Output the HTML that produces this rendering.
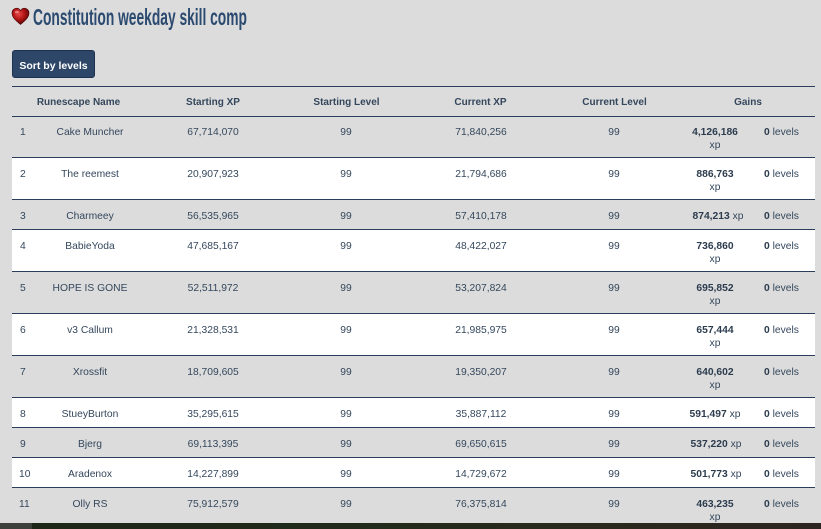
<!DOCTYPE html>
<html><head><meta charset="utf-8">
<style>
html,body{margin:0;padding:0;}
body{width:821px;height:529px;overflow:hidden;background:#dcdcdc;position:relative;font-family:"Liberation Sans",sans-serif;color:#34475c;}
.abs{position:absolute;}
.title{position:absolute;left:33px;top:3px;font-size:23px;font-weight:bold;color:#2b4a70;white-space:nowrap;transform:scaleX(0.6);transform-origin:0 0;line-height:29px;letter-spacing:0;}
.btn{position:absolute;left:12px;top:50px;width:81px;height:26px;background:#2e4768;border:1px solid #1e3250;border-radius:3px;color:#fff;font-size:10.5px;font-weight:bold;line-height:30px;text-align:center;}
.line{position:absolute;left:12px;width:803px;height:1px;background:#2b3d5b;}
.white{position:absolute;left:12px;width:803px;background:#fff;}
.c{position:absolute;font-size:10.3px;line-height:13px;text-align:center;white-space:nowrap;}
.h{position:absolute;font-size:10px;font-weight:bold;line-height:13px;text-align:center;white-space:nowrap;color:#34475c;}
b{color:#2c3c4e;}
</style></head><body>
<svg class="abs" style="left:11px;top:7px" width="19" height="19" viewBox="0 0 19 19">
<defs><radialGradient id="hg" cx="40%" cy="35%" r="70%"><stop offset="0" stop-color="#e84848"/><stop offset="0.5" stop-color="#b01414"/><stop offset="1" stop-color="#4a0404"/></radialGradient></defs>
<path d="M9.5 17.5 C4 13 1 10 1 6 C1 3 3.3 1.2 5.6 1.2 C7.4 1.2 8.8 2.3 9.5 3.6 C10.2 2.3 11.6 1.2 13.4 1.2 C15.7 1.2 18 3 18 6 C18 10 15 13 9.5 17.5 Z" fill="url(#hg)" stroke="#4a0808" stroke-width="0.6"/>
<ellipse cx="5.8" cy="5" rx="2" ry="1.3" fill="#ffb0b0" opacity="0.6"/>
</svg>
<div class="title">Constitution weekday skill comp</div>
<div class="btn">Sort by levels</div>

<div class="white" style="top:158px;height:42px"></div>
<div class="white" style="top:230px;height:42px"></div>
<div class="white" style="top:314px;height:42px"></div>
<div class="white" style="top:398px;height:30px"></div>
<div class="white" style="top:458px;height:30px"></div>

<div class="line" style="top:86px"></div>
<div class="line" style="top:116px"></div>
<div class="line" style="top:157px"></div>
<div class="line" style="top:199px"></div>
<div class="line" style="top:229px"></div>
<div class="line" style="top:271px"></div>
<div class="line" style="top:313px"></div>
<div class="line" style="top:355px"></div>
<div class="line" style="top:397px"></div>
<div class="line" style="top:427px"></div>
<div class="line" style="top:457px"></div>
<div class="line" style="top:487px"></div>

<div class="h" style="left:8.5px;width:140px;top:96px">Runescape Name</div>
<div class="h" style="left:143px;width:140px;top:96px">Starting XP</div>
<div class="h" style="left:276.5px;width:140px;top:96px">Starting Level</div>
<div class="h" style="left:410.5px;width:140px;top:96px">Current XP</div>
<div class="h" style="left:544.5px;width:140px;top:96px">Current Level</div>
<div class="h" style="left:678px;width:140px;top:96px">Gains</div>

<div class="c" style="left:20px;top:125.5px;text-align:left">1</div>
<div class="c" style="left:20px;width:140px;top:125.5px">Cake Muncher</div>
<div class="c" style="left:143px;width:140px;top:125.5px">67,714,070</div>
<div class="c" style="left:276px;width:140px;top:125.5px">99</div>
<div class="c" style="left:411px;width:140px;top:125.5px">71,840,256</div>
<div class="c" style="left:544px;width:140px;top:125.5px">99</div>
<div class="c" style="left:665px;width:100px;top:125.5px"><b>4,126,186</b><br>xp</div>
<div class="c" style="left:764px;top:125.5px;text-align:left"><b>0</b> levels</div>

<div class="c" style="left:20px;top:167.5px;text-align:left">2</div>
<div class="c" style="left:20px;width:140px;top:167.5px">The reemest</div>
<div class="c" style="left:143px;width:140px;top:167.5px">20,907,923</div>
<div class="c" style="left:276px;width:140px;top:167.5px">99</div>
<div class="c" style="left:411px;width:140px;top:167.5px">21,794,686</div>
<div class="c" style="left:544px;width:140px;top:167.5px">99</div>
<div class="c" style="left:665px;width:100px;top:167.5px"><b>886,763</b><br>xp</div>
<div class="c" style="left:764px;top:167.5px;text-align:left"><b>0</b> levels</div>

<div class="c" style="left:20px;top:209.5px;text-align:left">3</div>
<div class="c" style="left:20px;width:140px;top:209.5px">Charmeey</div>
<div class="c" style="left:143px;width:140px;top:209.5px">56,535,965</div>
<div class="c" style="left:276px;width:140px;top:209.5px">99</div>
<div class="c" style="left:411px;width:140px;top:209.5px">57,410,178</div>
<div class="c" style="left:544px;width:140px;top:209.5px">99</div>
<div class="c" style="left:668px;width:100px;top:209.5px"><b>874,213</b> xp</div>
<div class="c" style="left:764px;top:209.5px;text-align:left"><b>0</b> levels</div>

<div class="c" style="left:20px;top:239.5px;text-align:left">4</div>
<div class="c" style="left:20px;width:140px;top:239.5px">BabieYoda</div>
<div class="c" style="left:143px;width:140px;top:239.5px">47,685,167</div>
<div class="c" style="left:276px;width:140px;top:239.5px">99</div>
<div class="c" style="left:411px;width:140px;top:239.5px">48,422,027</div>
<div class="c" style="left:544px;width:140px;top:239.5px">99</div>
<div class="c" style="left:665px;width:100px;top:239.5px"><b>736,860</b><br>xp</div>
<div class="c" style="left:764px;top:239.5px;text-align:left"><b>0</b> levels</div>

<div class="c" style="left:20px;top:281.5px;text-align:left">5</div>
<div class="c" style="left:20px;width:140px;top:281.5px">HOPE IS GONE</div>
<div class="c" style="left:143px;width:140px;top:281.5px">52,511,972</div>
<div class="c" style="left:276px;width:140px;top:281.5px">99</div>
<div class="c" style="left:411px;width:140px;top:281.5px">53,207,824</div>
<div class="c" style="left:544px;width:140px;top:281.5px">99</div>
<div class="c" style="left:665px;width:100px;top:281.5px"><b>695,852</b><br>xp</div>
<div class="c" style="left:764px;top:281.5px;text-align:left"><b>0</b> levels</div>

<div class="c" style="left:20px;top:323.5px;text-align:left">6</div>
<div class="c" style="left:20px;width:140px;top:323.5px">v3 Callum</div>
<div class="c" style="left:143px;width:140px;top:323.5px">21,328,531</div>
<div class="c" style="left:276px;width:140px;top:323.5px">99</div>
<div class="c" style="left:411px;width:140px;top:323.5px">21,985,975</div>
<div class="c" style="left:544px;width:140px;top:323.5px">99</div>
<div class="c" style="left:665px;width:100px;top:323.5px"><b>657,444</b><br>xp</div>
<div class="c" style="left:764px;top:323.5px;text-align:left"><b>0</b> levels</div>

<div class="c" style="left:20px;top:365.5px;text-align:left">7</div>
<div class="c" style="left:20px;width:140px;top:365.5px">Xrossfit</div>
<div class="c" style="left:143px;width:140px;top:365.5px">18,709,605</div>
<div class="c" style="left:276px;width:140px;top:365.5px">99</div>
<div class="c" style="left:411px;width:140px;top:365.5px">19,350,207</div>
<div class="c" style="left:544px;width:140px;top:365.5px">99</div>
<div class="c" style="left:665px;width:100px;top:365.5px"><b>640,602</b><br>xp</div>
<div class="c" style="left:764px;top:365.5px;text-align:left"><b>0</b> levels</div>

<div class="c" style="left:20px;top:407.5px;text-align:left">8</div>
<div class="c" style="left:20px;width:140px;top:407.5px">StueyBurton</div>
<div class="c" style="left:143px;width:140px;top:407.5px">35,295,615</div>
<div class="c" style="left:276px;width:140px;top:407.5px">99</div>
<div class="c" style="left:411px;width:140px;top:407.5px">35,887,112</div>
<div class="c" style="left:544px;width:140px;top:407.5px">99</div>
<div class="c" style="left:665px;width:100px;top:407.5px"><b>591,497</b> xp</div>
<div class="c" style="left:764px;top:407.5px;text-align:left"><b>0</b> levels</div>

<div class="c" style="left:20px;top:437.5px;text-align:left">9</div>
<div class="c" style="left:20px;width:140px;top:437.5px">Bjerg</div>
<div class="c" style="left:143px;width:140px;top:437.5px">69,113,395</div>
<div class="c" style="left:276px;width:140px;top:437.5px">99</div>
<div class="c" style="left:411px;width:140px;top:437.5px">69,650,615</div>
<div class="c" style="left:544px;width:140px;top:437.5px">99</div>
<div class="c" style="left:666px;width:100px;top:437.5px"><b>537,220</b> xp</div>
<div class="c" style="left:764px;top:437.5px;text-align:left"><b>0</b> levels</div>

<div class="c" style="left:19px;top:467.5px;text-align:left">10</div>
<div class="c" style="left:20px;width:140px;top:467.5px">Aradenox</div>
<div class="c" style="left:143px;width:140px;top:467.5px">14,227,899</div>
<div class="c" style="left:276px;width:140px;top:467.5px">99</div>
<div class="c" style="left:411px;width:140px;top:467.5px">14,729,672</div>
<div class="c" style="left:544px;width:140px;top:467.5px">99</div>
<div class="c" style="left:666px;width:100px;top:467.5px"><b>501,773</b> xp</div>
<div class="c" style="left:764px;top:467.5px;text-align:left"><b>0</b> levels</div>

<div class="c" style="left:19px;top:497.5px;text-align:left">11</div>
<div class="c" style="left:20px;width:140px;top:497.5px">Olly RS</div>
<div class="c" style="left:143px;width:140px;top:497.5px">75,912,579</div>
<div class="c" style="left:276px;width:140px;top:497.5px">99</div>
<div class="c" style="left:411px;width:140px;top:497.5px">76,375,814</div>
<div class="c" style="left:544px;width:140px;top:497.5px">99</div>
<div class="c" style="left:665px;width:100px;top:497.5px"><b>463,235</b><br>xp</div>
<div class="c" style="left:764px;top:497.5px;text-align:left"><b>0</b> levels</div>

<div class="abs" style="left:0;top:523px;width:821px;height:6px;background:linear-gradient(90deg,#1c2619 0%,#1f2a1b 40%,#2a2a1e 70%,#2c2420 100%);"></div>
<div class="abs" style="left:0;top:523px;width:32px;height:6px;background:#3b403b;"></div>
</body></html>
